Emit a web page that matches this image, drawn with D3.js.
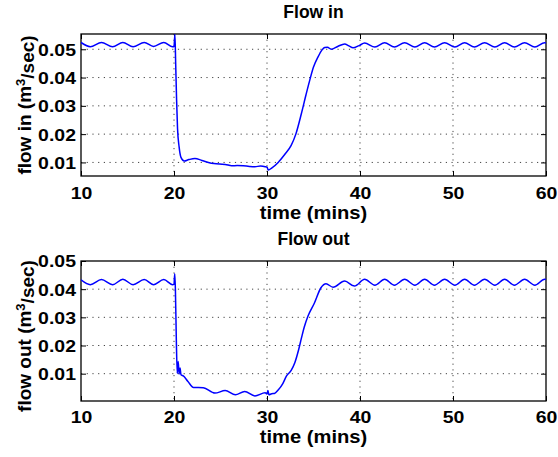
<!DOCTYPE html>
<html>
<head>
<meta charset="utf-8">
<script src="https://cdn.jsdelivr.net/npm/d3@7"></script>
<style>
  body { margin: 0; background: #fff; }
  svg { display: block; }
  text { font-family: "Liberation Sans", Arial, Helvetica, sans-serif; font-weight: bold; fill: #000; }
</style>
</head>
<body>
<div id="chart"></div>
<script>
// time (mins) and flow values
const inTime = [10, 11.0, 12.2, 13.4, 14.5, 15.6, 16.8, 17.8, 18.9, 19.85, 20.0, 20.1, 20.18, 20.28,
  20.38, 20.55, 20.75, 21.1, 21.6, 22.25, 23.0, 23.7, 24.3, 24.9, 25.5, 26.2, 26.8, 27.45, 28.1,
  28.7, 29.3, 29.8, 30.0, 30.15, 30.5, 31.2, 31.9, 32.6, 33.1, 33.7, 34.2, 34.6, 35.0, 35.5, 35.9,
  36.2, 36.5, 36.9, 37.6, 38.35, 38.8, 39.25, 39.9, 40.5, 41.6, 42.65, 43.7, 44.8, 45.9, 46.95,
  48.0, 49.1, 50.2, 51.25, 52.3, 53.4, 54.5, 55.55, 56.6, 57.7, 58.8, 59.85, 60];
const inFlow = [0.0524, 0.0509, 0.0524, 0.0509, 0.0524, 0.0509, 0.0524, 0.0510, 0.0524, 0.0509, 0.0510,
  0.0553, 0.0450, 0.0320, 0.0220, 0.0155, 0.0118, 0.0105, 0.0110, 0.0114, 0.0107, 0.0100, 0.0096,
  0.0094, 0.0093, 0.0088, 0.0089, 0.0088, 0.0086, 0.0085, 0.0087, 0.0085, 0.0083, 0.0073, 0.0080,
  0.0100, 0.0128, 0.0160, 0.0200, 0.0273, 0.0340, 0.0391, 0.0437, 0.0474, 0.0497, 0.0506, 0.0507,
  0.0500, 0.0510, 0.0519, 0.0512, 0.0505, 0.0513, 0.0522, 0.0508, 0.0523, 0.0508, 0.0523, 0.0508,
  0.0523, 0.0508, 0.0523, 0.0508, 0.0523, 0.0508, 0.0523, 0.0508, 0.0523, 0.0508, 0.0523, 0.0508,
  0.0523, 0.0522];

const outTime = [10, 11.0, 12.2, 13.4, 14.5, 15.6, 16.8, 17.8, 18.9, 19.85, 20.0, 20.08, 20.15, 20.25,
  20.35, 20.45, 20.55, 20.65, 20.75, 21.0, 21.5, 22.1, 23.15, 24.4, 25.5, 26.6, 27.6, 28.7, 29.8,
  30.0, 30.1, 30.2, 30.5, 30.8, 31.2, 31.7, 32.1, 32.6, 33.0, 33.4, 33.7, 34.0, 34.4, 35.1, 35.8,
  36.35, 37.1, 38.35, 39.4, 40.5, 41.6, 42.65, 43.7, 44.8, 45.9, 46.95, 48.0, 49.1, 50.2, 51.25,
  52.3, 53.4, 54.5, 55.55, 56.6, 57.7, 58.8, 59.85, 60];
const outFlow = [0.0433, 0.0416, 0.0434, 0.0416, 0.0435, 0.0416, 0.0434, 0.0416, 0.0434, 0.0416, 0.0417,
  0.0455, 0.0400, 0.0220, 0.0101, 0.0143, 0.0099, 0.0120, 0.0096, 0.0092, 0.0072, 0.0051, 0.0050,
  0.0031, 0.0040, 0.0025, 0.0037, 0.0021, 0.0032, 0.0028, 0.0040, 0.0025, 0.0029, 0.0030, 0.0042,
  0.0065, 0.0092, 0.0112, 0.0140, 0.0185, 0.0226, 0.0265, 0.0304, 0.0351, 0.0405, 0.0419, 0.0407,
  0.0429, 0.0411, 0.0435, 0.0414, 0.0435, 0.0414, 0.0435, 0.0414, 0.0435, 0.0414, 0.0435, 0.0414,
  0.0435, 0.0414, 0.0435, 0.0414, 0.0435, 0.0414, 0.0435, 0.0414, 0.0435, 0.0434];

const xTicks = [10, 20, 30, 40, 50, 60];
const yTicks = [0.01, 0.02, 0.03, 0.04, 0.05];

const width = 558, height = 457;
const svg = d3.select("#chart").append("svg")
  .attr("width", width)
  .attr("height", height);

// one panel: box, grid, ticks on four sides, line, labels
function drawPanel(cfg) {
  const x = d3.scaleLinear().domain([10, 60]).range([cfg.left, cfg.right]);
  const y = d3.scaleLinear().domain(cfg.yDomain).range([cfg.bottom, cfg.top]);
  const g = svg.append("g");

  // dotted grid
  g.append("g").selectAll("line")
    .data(xTicks.slice(1, -1))
    .join("line")
    .attr("x1", d => x(d)).attr("x2", d => x(d))
    .attr("y1", cfg.top).attr("y2", cfg.bottom)
    .attr("stroke", "#444").attr("stroke-width", 1)
    .attr("stroke-dasharray", "1.2,4.5");
  g.append("g").selectAll("line")
    .data(yTicks.filter(d => y(d) > cfg.top + 1))
    .join("line")
    .attr("x1", cfg.left).attr("x2", cfg.right)
    .attr("y1", d => y(d)).attr("y2", d => y(d))
    .attr("stroke", "#444").attr("stroke-width", 1)
    .attr("stroke-dasharray", "1.2,4.5");

  // axes (inward ticks) on all four sides
  const sx = 1.18; // glyphs in the picture are a bit wider than tall
  const xb = g.append("g").attr("transform", `translate(0,${cfg.bottom})`)
    .call(d3.axisBottom(x).tickValues(xTicks).tickSize(-5).tickPadding(0).tickFormat(d3.format("d")));
  xb.selectAll("text")
    .attr("y", 0).attr("dy", null)
    .attr("transform", `translate(0,${cfg.xTickBase - cfg.bottom}) scale(${sx},1)`)
    .style("font-size", "16.5px");
  g.append("g").attr("transform", `translate(0,${cfg.top})`)
    .call(d3.axisTop(x).tickValues(xTicks).tickSize(-5).tickFormat(""));
  const yl = g.append("g").attr("transform", `translate(${cfg.left},0)`)
    .call(d3.axisLeft(y).tickValues(yTicks).tickSize(-5).tickPadding(0).tickFormat(d3.format(".2f")));
  yl.selectAll("text")
    .attr("x", 0).attr("dy", "0.36em")
    .attr("transform", `translate(-5,0) scale(${sx},1)`)
    .style("font-size", "16.5px");
  g.append("g").attr("transform", `translate(${cfg.right},0)`)
    .call(d3.axisRight(y).tickValues(yTicks).tickSize(-5).tickFormat(""));
  g.selectAll(".domain").remove();
  g.selectAll(".tick line").attr("stroke", "#000").attr("stroke-width", 1);

  // box
  g.append("rect")
    .attr("x", cfg.left).attr("y", cfg.top)
    .attr("width", cfg.right - cfg.left).attr("height", cfg.bottom - cfg.top)
    .attr("fill", "none").attr("stroke", "#000").attr("stroke-width", 1.3);

  // data line
  const clipId = "clip" + cfg.id;
  svg.append("clipPath").attr("id", clipId).append("rect")
    .attr("x", cfg.left).attr("y", cfg.top)
    .attr("width", cfg.right - cfg.left).attr("height", cfg.bottom - cfg.top);
  const line = d3.line()
    .x((d, i) => x(cfg.t[i]))
    .y(d => y(d))
    .curve(d3.curveMonotoneX);
  g.append("path")
    .attr("clip-path", `url(#${clipId})`)
    .attr("d", line(cfg.v))
    .attr("fill", "none").attr("stroke", "#0000ff").attr("stroke-width", 1.5);

  // title and axis labels
  const mid = (cfg.left + cfg.right) / 2;
  g.append("text")
    .attr("x", mid).attr("y", cfg.titleBase)
    .attr("text-anchor", "middle").style("font-size", "17.5px")
    .text(cfg.title);
  g.append("text")
    .attr("transform", `translate(${mid},${cfg.xLabelBase}) scale(1.12,1)`)
    .attr("text-anchor", "middle").style("font-size", "18px")
    .text("time (mins)");
  const ylab = g.append("text")
    .attr("transform", `translate(31,${(cfg.top + cfg.bottom) / 2 + cfg.yLabelShift}) rotate(-90)`)
    .attr("text-anchor", "middle").style("font-size", "19px");
  ylab.append("tspan").text(cfg.yLabel + " (m");
  ylab.append("tspan").attr("dy", "-0.5em").style("font-size", "13px").text("3");
  ylab.append("tspan").attr("dy", "0.5em").text("/sec)");
}

drawPanel({
  id: 1, left: 81, right: 546, top: 34, bottom: 176,
  yDomain: [0.0052, 0.0554],
  t: inTime, v: inFlow,
  title: "Flow in", titleBase: 18,
  xTickBase: 199, xLabelBase: 219,
  yLabel: "flow in", yLabelShift: 0
});

drawPanel({
  id: 2, left: 81, right: 546, top: 261, bottom: 401,
  yDomain: [0.0003, 0.05],
  t: outTime, v: outFlow,
  title: "Flow out", titleBase: 245,
  xTickBase: 423, xLabelBase: 443,
  yLabel: "flow out", yLabelShift: 5
});
</script>
</body>
</html>
